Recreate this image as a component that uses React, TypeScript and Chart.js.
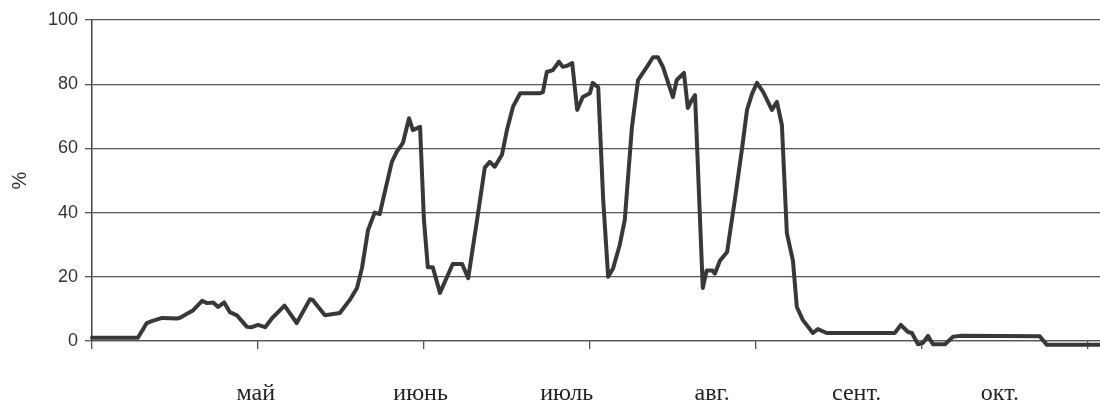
import React, { useEffect, useRef } from "react";
import { Chart, registerables } from "chart.js";

Chart.register(...registerables);

// Day index (month = 30 units) and share in percent
const days: number[] = [
  0, 8.3, 9.9, 10.8, 12.7, 15.4, 16, 18.3, 19.9, 20.8, 21.9, 22.8, 23.9, 24.9, 26.2, 28, 28.9, 30, 31.3, 32.5,
  34.8, 37, 39.4, 39.9, 42.1, 44.8, 46.6, 47.9, 48.8, 49.9, 51.1, 52, 52.6, 54.2, 55.1, 56.2, 57.3, 58, 59.3,
  60, 60.7, 61.6, 62.9, 65.2, 66.9, 68, 69.6, 71, 71.9, 72.8, 74.1, 75, 76.1, 77.4, 81, 81.5, 82.2, 83.3, 84.4,
  85.1, 85.8, 86.8, 87.7, 88.7, 90, 90.5, 91.5, 92.4, 93.3, 94.2, 95.4, 96.3, 97.6, 98.7, 100.3, 101.4, 102.3,
  103.2, 105, 105.7, 107, 107.7, 108.4, 109, 110.4, 111.1, 112.1, 112.6, 113.5, 114.8, 115.3, 116.2, 117.5,
  118.4, 119.3, 120.2, 121.3, 122.9, 123.8, 124.7, 125.6, 126.7, 127.4, 128.5, 130.3, 131.2, 132.8, 145.1,
  146.2, 147.5, 148.2, 149.3, 150.2, 151.1, 152, 154.2, 155.6, 156.9, 171.3, 172.6, 182.2,
];
const values: number[] = [
  1, 1, 5.6, 6.2, 7.2, 7, 7.3, 9.6, 12.5, 11.8, 12, 10.6, 12, 9, 8, 4.4, 4.3, 5, 4.3, 7,
  11, 5.6, 13, 12.8, 8, 8.7, 12.8, 16.5, 22.7, 34.6, 40, 39.5, 44, 55.8, 59, 61.7, 69.4, 65.7, 66.7,
  37.7, 23, 23, 15, 24, 24, 19.6, 37.7, 54, 55.8, 54.3, 58, 65.7, 73, 77.2, 77.2, 77.5, 83.8, 84.4, 87,
  85.4, 85.7, 86.6, 72, 76, 77.2, 80.4, 79, 44, 20, 22.7, 30, 37.7, 66.7, 81.3, 85.4, 88.4, 88.4,
  85.4, 76, 81.3, 83.5, 72.6, 75, 76.6, 16.5, 22, 22, 21, 25, 27.7, 33.6, 44, 60,
  72, 77, 80.4, 77.6, 72, 74.5, 67.3, 33.6, 25, 10.6, 6.5, 2.5, 3.7, 2.5, 2.5,
  5, 2.8, 2.5, -1, -0.6, 1.6, -1, -1, 1.3, 1.6, 1.5, -1.2, -1.2,
];

const monthTicks: number[] = [0, 30, 60, 90, 120, 150, 180];
const monthLabels: string[] = ["май", "июнь", "июль", "авг.", "сент.", "окт."];
const monthLabelAt: number[] = [29.6, 59.4, 85.8, 112.1, 138.2, 164.1];
const yTicks: number[] = [0, 20, 40, 60, 80, 100];

const X_MAX = 182.2;

export default function App() {
  const ref = useRef<HTMLCanvasElement | null>(null);

  useEffect(() => {
    document.body.style.margin = "0";
    document.body.style.background = "#ffffff";
    if (!ref.current) return;
    const points = days.map((d, i) => ({ x: d, y: values[i] }));
    const chart = new Chart(ref.current, {
      type: "line",
      data: {
        datasets: [
          {
            data: points,
            borderColor: "#383838",
            borderWidth: 4,
            pointRadius: 0,
            tension: 0,
            fill: false,
            clip: 12,
            borderJoinStyle: "round",
            borderCapStyle: "round",
          } as any,
        ],
      },
      options: {
        animation: false,
        responsive: false,
        devicePixelRatio: 1,
        layout: { padding: { top: 20, right: 0, bottom: 0, left: 0 } },
        plugins: { legend: { display: false }, tooltip: { enabled: false } },
        scales: {
          x: {
            type: "linear",
            position: "bottom",
            min: 0,
            max: X_MAX,
            weight: 0,
            afterBuildTicks: (axis: any) => {
              axis.ticks = monthTicks.map((v) => ({ value: v }));
            },
            afterFit: (axis: any) => {
              axis.height = 8;
            },
            ticks: { callback: () => "", autoSkip: false, maxRotation: 0 },
            grid: {
              drawOnChartArea: false,
              drawTicks: true,
              tickLength: 8,
              color: "#555555",
              lineWidth: 1.3,
            },
            border: { display: true, color: "#555555", width: 1.3 },
          },
          x2: {
            type: "linear",
            position: "bottom",
            min: 0,
            max: X_MAX,
            weight: 1,
            afterBuildTicks: (axis: any) => {
              axis.ticks = monthLabelAt.map((v) => ({ value: v }));
            },
            afterFit: (axis: any) => {
              axis.height = 56;
            },
            ticks: {
              autoSkip: false,
              maxRotation: 0,
              padding: 22,
              color: "#222222",
              font: { family: "'Liberation Serif', 'Times New Roman', serif", size: 24 },
              callback: (_v: any, i: number) => monthLabels[i],
            },
            grid: { display: false },
            border: { display: false },
          },
          y: {
            type: "linear",
            min: 0,
            max: 100,
            afterBuildTicks: (axis: any) => {
              axis.ticks = yTicks.map((v) => ({ value: v }));
            },
            afterFit: (axis: any) => {
              axis.width = 92;
            },
            ticks: {
              padding: 7,
              color: "#333333",
              font: { family: "'Liberation Sans', Arial, sans-serif", size: 18 },
            },
            grid: {
              color: "#555555",
              lineWidth: 1.3,
              drawTicks: true,
              tickLength: 7,
            },
            border: { display: true, color: "#444444", width: 1.5 },
            title: {
              display: true,
              text: "%",
              color: "#333333",
              padding: { top: 8, bottom: 0 },
              font: { family: "'Liberation Sans', Arial, sans-serif", size: 20 },
            },
          },
        },
      },
    });
    return () => chart.destroy();
  }, []);

  return (
    <div style={{ width: 1100, height: 405 }}>
      <canvas ref={ref} width={1100} height={405} style={{ display: "block" }} />
    </div>
  );
}
